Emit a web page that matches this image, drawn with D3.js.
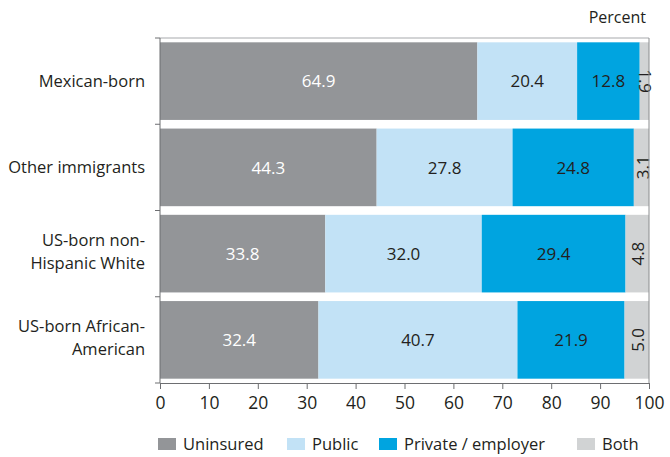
<!DOCTYPE html>
<html><head><meta charset="utf-8">
<script src="https://cdn.jsdelivr.net/npm/d3@7"></script>
<style>body{margin:0;background:#fff}svg{display:block}text{font-family:"Open Sans",sans-serif;fill:#231f20}</style>
</head><body><svg id="c" width="670" height="457"></svg>
<script>
const categories = ["Mexican-born","Other immigrants","US-born non-Hispanic White","US-born African-American"];
const categoryLines = [["Mexican-born"],["Other immigrants"],["US-born non-","Hispanic White"],["US-born African-","American"]];
const seriesNames = ["Uninsured","Public","Private / employer","Both"];
const uninsured = [64.9,44.3,33.8,32.4];
const publicIns = [20.4,27.8,32.0,40.7];
const privateIns = [12.8,24.8,29.4,21.9];
const both = [1.9,3.1,4.8,5.0];
const bothLabelRotation = [90,-90,-90,-90];
const xTicks = [0,10,20,30,40,50,60,70,80,90,100];
const colors = ["#939598","#c2e2f6","#00a4e0","#d1d3d4"];
const labelColors = ["#ffffff","#231f20","#231f20","#231f20"];

const svg = d3.select("#c");
const m = {l:160, r:649, t:38, b:383};
const x = d3.scaleLinear().domain([0,100]).range([m.l,m.r]);
const y = d3.scaleBand().domain(categories).range([m.t,m.b]).paddingInner(0.1).paddingOuter(0.05);

const rows = categories.map((c,i)=>({cat:c, idx:i, Uninsured:uninsured[i], Public:publicIns[i], "Private / employer":privateIns[i], Both:both[i]}));
const stack = d3.stack().keys(seriesNames)(rows);

stack.forEach((s,si)=>{
  const g = svg.append("g");
  g.selectAll("rect").data(s).join("rect")
    .attr("x",d=>x(d[0])).attr("width",d=>x(d[1])-x(d[0]))
    .attr("y",d=>y(d.data.cat)).attr("height",y.bandwidth())
    .attr("fill",colors[si]);
  g.selectAll("text").data(s).join("text")
    .attr("transform",d=>{
      const cx=(x(d[0])+x(d[1]))/2, cy=y(d.data.cat)+y.bandwidth()/2;
      return si===3 ? `translate(${cx+1},${cy}) rotate(${bothLabelRotation[d.data.idx]})` : `translate(${cx},${cy})`;
    })
    .attr("text-anchor","middle").attr("dy","0.36em")
    .style("font-size","17px").style("fill",labelColors[si])
    .text(d=>d3.format(".1f")(d[1]-d[0]));
});

// frame
svg.append("line").attr("x1",m.l).attr("x2",m.r).attr("y1",m.t).attr("y2",m.t).attr("stroke","#a7a9ac").attr("stroke-width",1);
svg.append("line").attr("x1",m.r).attr("x2",m.r).attr("y1",m.t).attr("y2",m.b).attr("stroke","#8a8c8e").attr("stroke-width",1);

// y axis
const bounds = [m.t].concat(categories.map((c,i)=> i<categories.length-1 ? (y(c)+y.bandwidth()+y(categories[i+1]))/2 : null).filter(v=>v!==null)).concat([m.b]);
svg.append("line").attr("x1",m.l).attr("x2",m.l).attr("y1",m.t).attr("y2",m.b).attr("stroke","#6d6e71");
svg.selectAll(".yt").data(bounds).join("line").attr("x1",m.l-5).attr("x2",m.l).attr("y1",d=>d).attr("y2",d=>d).attr("stroke","#6d6e71");

categoryLines.forEach((lines,i)=>{
  const cy = y(categories[i])+y.bandwidth()/2 - (lines.length>1?2:0);
  const t = svg.append("text").attr("text-anchor","end").style("font-size","16.5px");
  lines.forEach((ln,j)=>{
    t.append("tspan").attr("x",145).attr("y",cy+(j-(lines.length-1)/2)*23).attr("dy","0.36em").text(ln);
  });
});

// x axis
const xa = svg.append("g").attr("transform",`translate(0,${m.b})`)
  .call(d3.axisBottom(x).tickValues(xTicks).tickSize(6).tickPadding(8).tickFormat(d3.format("d")));
xa.select(".domain").attr("stroke","#6d6e71");
xa.selectAll(".tick line").attr("stroke","#6d6e71");
xa.selectAll(".tick text").style("font-size","17.5px").style("font-family","Open Sans, sans-serif").attr("fill","#231f20");

svg.append("text").attr("x",646).attr("y",23).attr("text-anchor","end").style("font-size","16px").text("Percent");

// legend
const legX = [158,287,379,577];
seriesNames.forEach((n,i)=>{
  svg.append("rect").attr("x",legX[i]).attr("y",438).attr("width",18).attr("height",12).attr("fill",colors[i]);
  svg.append("text").attr("x",legX[i]+25).attr("y",444).attr("dy","0.36em").style("font-size","16.5px").text(n);
});
</script></body></html>
